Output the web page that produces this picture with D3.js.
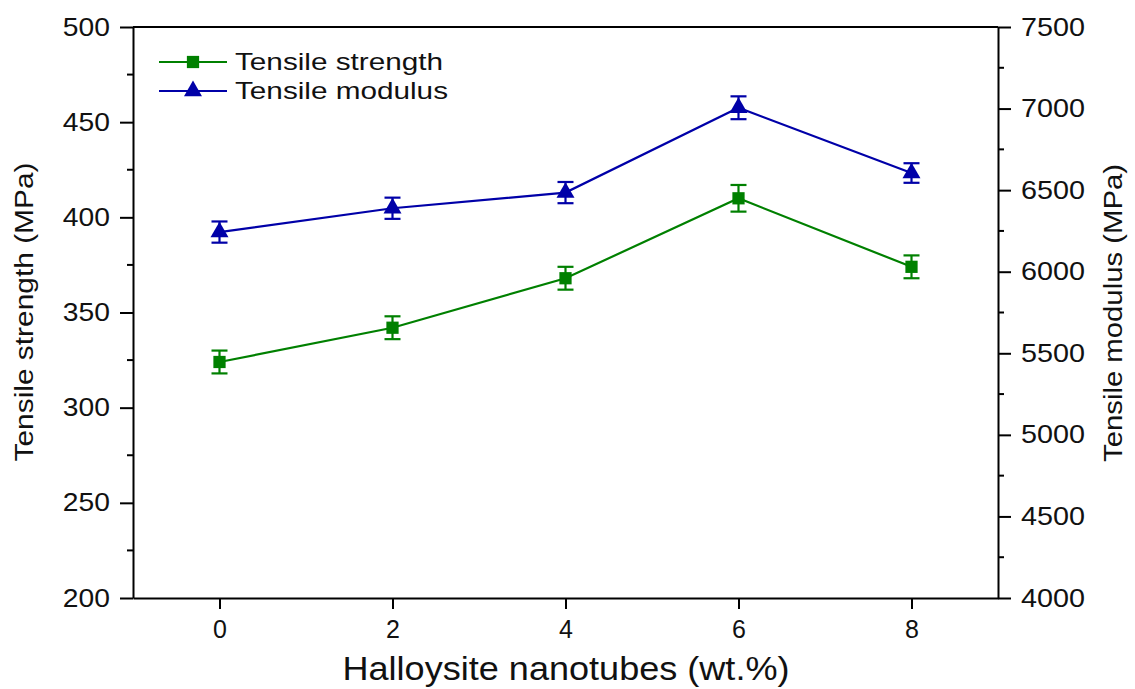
<!DOCTYPE html>
<html>
<head>
<meta charset="utf-8">
<script src="https://cdn.jsdelivr.net/npm/d3@7"></script>
<style>
  body { margin: 0; background: #fff; }
  text { font-family: "Liberation Sans", Arial, sans-serif; fill: #111; }
</style>
</head>
<body>
<div id="chart"></div>
<script>
var width = 1135, height = 689;
var margin = {top: 27, right: 137, bottom: 91, left: 133};

// data
var loading = [0, 2, 4, 6, 8];
var strength = [324, 342, 368, 410, 374];
var strengthErr = [6, 6, 6, 7, 6];
var modulus = [6243, 6389, 6485, 7005, 6605];
var modulusErr = [65, 65, 65, 70, 60];
var xTicks = [0, 2, 4, 6, 8];
var leftTicks = [200, 250, 300, 350, 400, 450, 500];
var rightTicks = [4000, 4500, 5000, 5500, 6000, 6500, 7000, 7500];

var green = '#008000', blue = '#0000a8';

var svg = d3.select('#chart').append('svg')
  .attr('width', width).attr('height', height);

var x = d3.scaleLinear().domain([-1, 9]).range([margin.left, width - margin.right]);
var yL = d3.scaleLinear().domain([200, 500]).range([height - margin.bottom, margin.top]);
var yR = d3.scaleLinear().domain([4000, 7500]).range([height - margin.bottom, margin.top]);

var x0 = margin.left, x1 = width - margin.right, yb = height - margin.bottom, yt = margin.top;

// frame top line
svg.append('line').attr('x1', x0).attr('x2', x1).attr('y1', yt).attr('y2', yt)
  .attr('stroke', '#000').attr('stroke-width', 2);

// stretch wide: the figure's numbers look a bit wider than Arial
function stretch(sel, k) {
  sel.each(function () {
    var w = this.getComputedTextLength();
    d3.select(this).attr('textLength', w * k).attr('lengthAdjust', 'spacingAndGlyphs');
  });
}

function styleAxis(g, k) {
  g.attr('font-size', null).attr('font-family', null);
  g.select('.domain').attr('stroke', '#000').attr('stroke-width', 2);
  g.selectAll('.tick line').attr('stroke', '#000').attr('stroke-width', 2);
  g.selectAll('.tick text').style('font-size', '25px').attr('fill', '#111');
  if (k) stretch(g.selectAll('.tick text'), k);
}

// minor ticks
var minorL = d3.range(225, 500, 50);
var minorR = d3.range(4250, 7500, 500);
svg.selectAll('.minorL').data(minorL).enter().append('line')
  .attr('x1', x0 - 6).attr('x2', x0).attr('y1', d => yL(d)).attr('y2', d => yL(d))
  .attr('stroke', '#000').attr('stroke-width', 2);
svg.selectAll('.minorR').data(minorR).enter().append('line')
  .attr('x1', x1).attr('x2', x1 + 6).attr('y1', d => yR(d)).attr('y2', d => yR(d))
  .attr('stroke', '#000').attr('stroke-width', 2);

svg.append('g').attr('transform', `translate(0,${yb})`)
  .call(d3.axisBottom(x).tickValues(xTicks).tickSize(11).tickPadding(11).tickSizeOuter(0))
  .call(styleAxis, 0);
svg.append('g').attr('transform', `translate(${x0},0)`)
  .call(d3.axisLeft(yL).tickValues(leftTicks).tickSize(13).tickPadding(10).tickSizeOuter(0))
  .call(styleAxis, 1.13);
svg.append('g').attr('transform', `translate(${x1},0)`)
  .call(d3.axisRight(yR).tickValues(rightTicks).tickFormat(d3.format('d')).tickSize(13).tickPadding(10).tickSizeOuter(0))
  .call(styleAxis, 1.15);

// axis titles
svg.append('text').attr('x', 566).attr('y', 680).attr('text-anchor', 'middle')
  .style('font-size', '33px')
  .attr('textLength', 447).attr('lengthAdjust', 'spacingAndGlyphs')
  .text('Halloysite nanotubes (wt.%)');
svg.append('text').attr('transform', `translate(33,312) rotate(-90)`)
  .attr('text-anchor', 'middle').style('font-size', '25px')
  .attr('textLength', 299).attr('lengthAdjust', 'spacingAndGlyphs')
  .text('Tensile strength (MPa)');
svg.append('text').attr('transform', `translate(1122,313) rotate(-90)`)
  .attr('text-anchor', 'middle').style('font-size', '26px')
  .attr('textLength', 298).attr('lengthAdjust', 'spacingAndGlyphs')
  .text('Tensile modulus (MPa)');

var sq = d3.symbol().type(d3.symbolSquare).size(150);
var tri = d3.symbol().type(d3.symbolTriangle).size(140);

function series(vals, errs, y, color, sym) {
  var pts = loading.map((d, i) => ({x: d, v: vals[i], e: errs[i]}));
  svg.append('path').datum(pts)
    .attr('fill', 'none').attr('stroke', color).attr('stroke-width', 2.2)
    .attr('d', d3.line().x(d => x(d.x)).y(d => y(d.v)));
  var g = svg.selectAll(null).data(pts).enter().append('g')
    .attr('stroke', color).attr('stroke-width', 2.2);
  g.append('line').attr('x1', d => x(d.x)).attr('x2', d => x(d.x))
    .attr('y1', d => y(d.v - d.e)).attr('y2', d => y(d.v + d.e));
  g.append('line').attr('x1', d => x(d.x) - 8).attr('x2', d => x(d.x) + 8)
    .attr('y1', d => y(d.v + d.e)).attr('y2', d => y(d.v + d.e));
  g.append('line').attr('x1', d => x(d.x) - 8).attr('x2', d => x(d.x) + 8)
    .attr('y1', d => y(d.v - d.e)).attr('y2', d => y(d.v - d.e));
  svg.selectAll(null).data(pts).enter().append('path')
    .attr('transform', d => `translate(${x(d.x)},${y(d.v)})`)
    .attr('d', sym).attr('fill', color);
}

series(modulus, modulusErr, yR, blue, tri);
series(strength, strengthErr, yL, green, sq);

// legend
var legend = [
  {name: 'Tensile strength', color: green, sym: sq, len: 208},
  {name: 'Tensile modulus', color: blue, sym: tri, len: 213}
];
legend.forEach((d, i) => {
  var ly = 62 + i * 29;
  svg.append('line').attr('x1', 159).attr('x2', 227).attr('y1', ly).attr('y2', ly)
    .attr('stroke', d.color).attr('stroke-width', 2);
  svg.append('path').attr('transform', `translate(193,${ly})`).attr('d', d.sym).attr('fill', d.color);
  svg.append('text').attr('x', 235).attr('y', ly + 8).style('font-size', '24px')
    .attr('textLength', d.len).attr('lengthAdjust', 'spacingAndGlyphs').text(d.name);
});
</script>
</body>
</html>
